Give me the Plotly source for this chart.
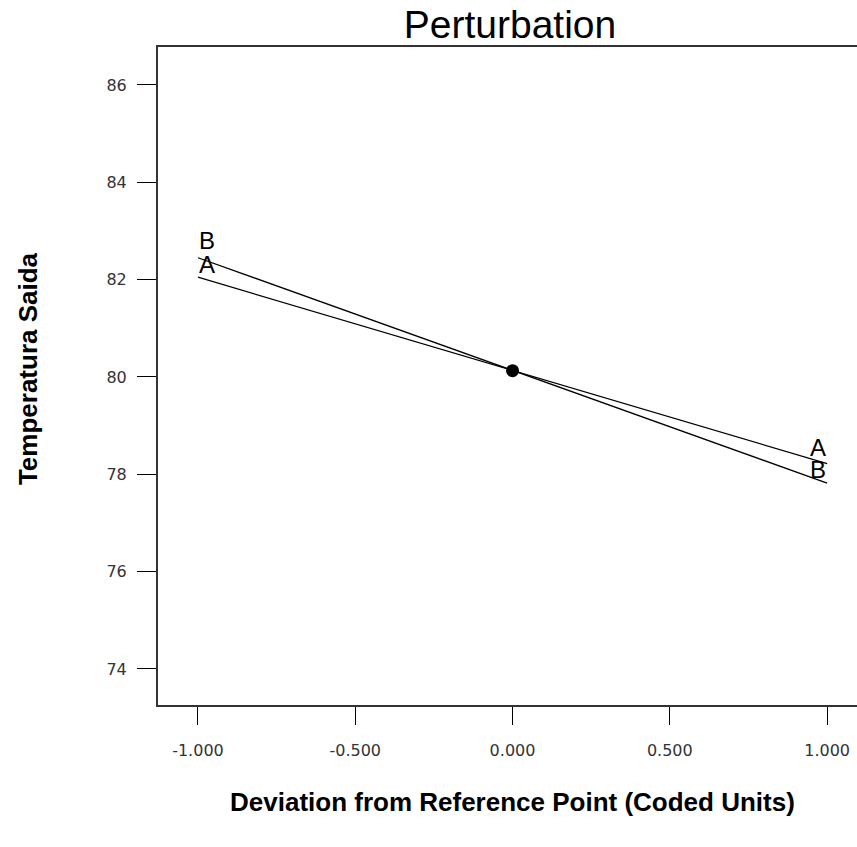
import plotly.graph_objects as go

# Data
x_coded = [-1.0, 0.0, 1.0]
factor_names = ["A", "B"]
series_A = [82.05, 80.13, 78.22]
series_B = [82.45, 80.13, 77.82]
ref_point = (0.0, 80.13)
x_ticks = [-1.0, -0.5, 0.0, 0.5, 1.0]
x_tick_text = ["-1.000", "-0.500", "0.000", "0.500", "1.000"]
y_ticks = [74, 76, 78, 80, 82, 84, 86]

title_text = "Perturbation"
x_title = "Deviation from Reference Point (Coded Units)"
y_title = "Temperatura Saida"

FONT = "Liberation Sans, Arial, sans-serif"

fig = go.Figure()
for name, ys in zip(factor_names, [series_A, series_B]):
    fig.add_trace(go.Scatter(x=x_coded, y=ys, mode="lines",
                             line=dict(color="black", width=1.3),
                             name=name, showlegend=False, hoverinfo="skip"))

fig.add_trace(go.Scatter(x=[ref_point[0]], y=[ref_point[1]], mode="markers",
                         marker=dict(color="black", size=13, symbol="circle"),
                         showlegend=False))

# end labels (upper label on each side is nudged up slightly so labels stack)
end_shift = {("B", 0): 17, ("A", 0): 13, ("A", -1): 16, ("B", -1): 14}
for name, ys in zip(factor_names, [series_A, series_B]):
    for idx in (0, -1):
        fig.add_annotation(x=x_coded[idx] * 0.97, y=ys[idx], text=name, showarrow=False,
                           xanchor="center", yanchor="middle",
                           yshift=end_shift[(name, idx)],
                           font=dict(family=FONT, size=24, color="black"))

fig.add_annotation(x=0.507, y=-0.1474, xref="paper", yref="paper",
                   text=f"<b>{x_title}</b>", showarrow=False,
                   xanchor="center", yanchor="middle",
                   font=dict(family=FONT, size=26, color="black"))
fig.add_annotation(x=-0.186, y=0.512, xref="paper", yref="paper",
                   text=f"<b>{y_title}</b>", showarrow=False, textangle=-90,
                   xanchor="center", yanchor="middle",
                   font=dict(family=FONT, size=26, color="black"))

fig.update_layout(
    width=857, height=847,
    margin=dict(l=158, r=0, t=47, b=142),
    paper_bgcolor="white", plot_bgcolor="white",
    title=dict(text=title_text, x=510 / 857, xref="container", xanchor="center",
               y=1 - 24 / 847, yref="container", yanchor="middle",
               font=dict(family=FONT, size=39, color="black")),
    showlegend=False,
)

fig.update_xaxes(range=[-1.127, 1.095], tickvals=x_ticks, ticktext=x_tick_text,
                 showgrid=False, zeroline=False,
                 showline=True, linecolor="#333", linewidth=2, mirror=True,
                 ticks="outside", ticklen=18, tickwidth=1.2, tickcolor="black",
                 ticklabelstandoff=12,
                 tickfont=dict(family="DejaVu Sans", size=16, color="#333"))
fig.update_yaxes(range=[73.26, 86.78], tickvals=y_ticks,
                 showgrid=False, zeroline=False,
                 showline=True, linecolor="#333", linewidth=2,
                 ticks="outside", ticklen=19, tickwidth=1.2, tickcolor="black",
                 ticklabelstandoff=7,
                 tickfont=dict(family="DejaVu Sans", size=16, color="#333"))

fig.write_html("out.html")
